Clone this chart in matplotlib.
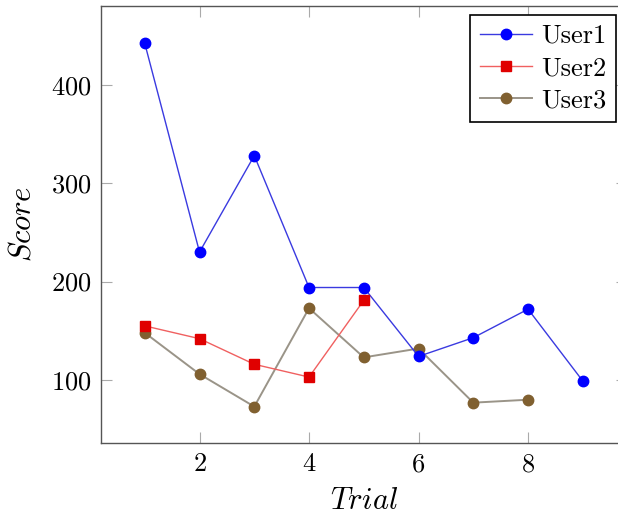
import matplotlib
matplotlib.use("Agg")
import matplotlib.pyplot as plt

plt.rcParams["font.family"] = ["cmr10", "DejaVu Sans"]
plt.rcParams["mathtext.fontset"] = "cm"
plt.rcParams["axes.formatter.use_mathtext"] = True

# Scores per trial for each user
trials_u1 = [1, 2, 3, 4, 5, 6, 7, 8, 9]
user1 = [442, 230, 328, 194, 194, 124, 143, 172, 99]
trials_u2 = [1, 2, 3, 4, 5]
user2 = [155, 142, 116, 103, 181]
trials_u3 = [1, 2, 3, 4, 5, 6, 7, 8]
user3 = [148, 106, 73, 173, 123, 132, 77, 80]

series_names = ["User1", "User2", "User3"]
x_ticks = [2, 4, 6, 8]
y_ticks = [100, 200, 300, 400]

fig = plt.figure(figsize=(6.18, 5.19), dpi=100)
ax = fig.add_axes([0.1634, 0.1464, 0.8505, 0.842])

ax.plot(trials_u1, user1, color="#3a3ae0", lw=1.0, marker="o", ms=7.5,
        mfc="#0000ff", mec="#0000ff", label=series_names[0], zorder=3)
ax.plot(trials_u2, user2, color="#f06060", lw=1.0, marker="s", ms=7.5,
        mfc="#e00000", mec="#e00000", label=series_names[1], zorder=3)
ax.plot(trials_u3, user3, color="#9a9488", lw=1.4, marker="o", ms=7.5,
        mfc="#806030", mec="#806030", label=series_names[2], zorder=2)

ax.set_xlim(0.2, 9.8)
ax.set_ylim(36, 480)
ax.set_xticks(x_ticks)
ax.set_yticks(y_ticks)
ax.tick_params(direction="in", length=8, width=0.8, color="#aaaaaa",
               labelsize=19, pad=7, top=True, right=True)
for s in ax.spines.values():
    s.set_color("#555555")
    s.set_linewidth(1.0)

ax.set_xlabel(r"$Trial$", fontsize=22, labelpad=8)
ax.set_ylabel(r"$Score$", fontsize=22, labelpad=10)

leg = ax.legend(loc="upper right", bbox_to_anchor=(616 / 618, 1 - 15 / 519),
                bbox_transform=fig.transFigure, fontsize=19, frameon=True,
                fancybox=False, framealpha=1, edgecolor="black",
                handlelength=2.0, handletextpad=0.35, borderpad=0.35,
                labelspacing=0.32, borderaxespad=0)
leg.get_frame().set_linewidth(1.2)

fig.savefig("out.png", dpi=100)
